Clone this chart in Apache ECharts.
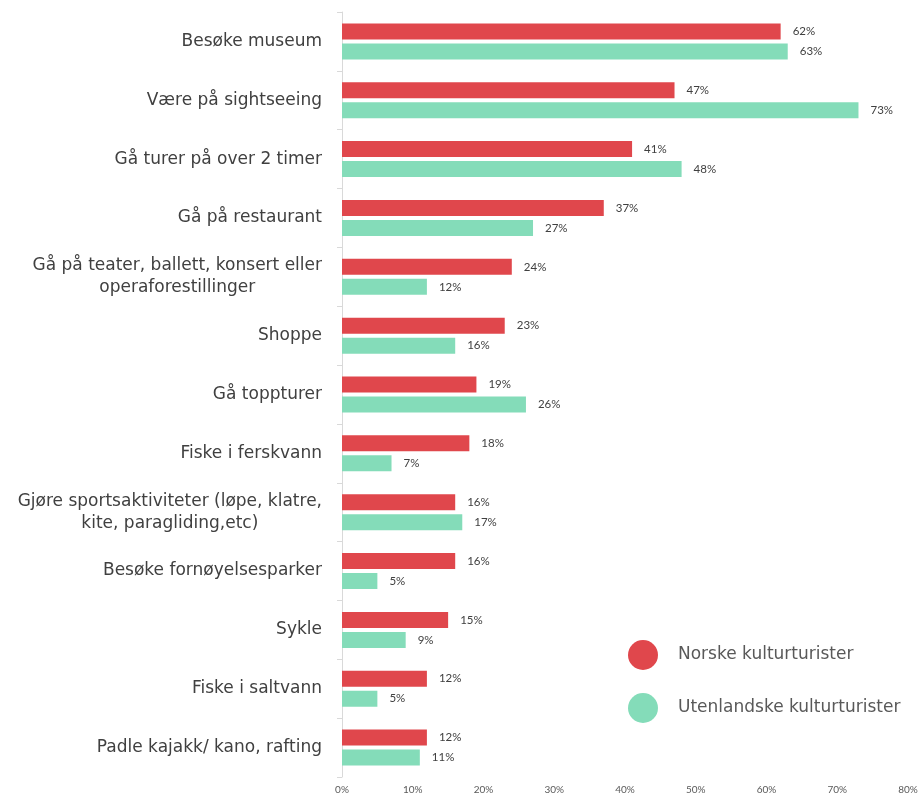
<!DOCTYPE html>
<html>
<head>
<meta charset="utf-8">
<script src="https://cdn.jsdelivr.net/npm/echarts@6/dist/echarts.min.js"></script>
<style>
  html, body { margin: 0; padding: 0; background: #fff; }
  #chart { width: 921px; height: 797px; }
</style>
</head>
<body>
<div id="chart"></div>
<script>
// aktiviteter, ovenfra og ned
const categories = [
    'Besøke museum',
    'Være på sightseeing',
    'Gå turer på over 2 timer',
    'Gå på restaurant',
    'Gå på teater, ballett, konsert eller\noperaforestillinger',
    'Shoppe',
    'Gå toppturer',
    'Fiske i ferskvann',
    'Gjøre sportsaktiviteter (løpe, klatre,\nkite, paragliding,etc)',
    'Besøke fornøyelsesparker',
    'Sykle',
    'Fiske i saltvann',
    'Padle kajakk/ kano, rafting'
];
const norske = [62, 47, 41, 37, 24, 23, 19, 18, 16, 16, 15, 12, 12];
const utenlandske = [63, 73, 48, 27, 12, 16, 26, 7, 17, 5, 9, 5, 11];
const seriesNames = ['Norske kulturturister', 'Utenlandske kulturturister'];
const xTicks = [0, 10, 20, 30, 40, 50, 60, 70, 80];

const RED = '#E0474C';
const GREEN = '#84DCB9';
const FONT = 'Lato, "Liberation Sans", sans-serif';
const WIDE = '"DejaVu Sans", sans-serif'; // bredere, nærmere originalen

const chart = echarts.init(document.getElementById('chart'));

const valueLabel = {
    show: true,
    position: 'right',
    distance: 12,
    fontSize: 11.5,
    fontFamily: FONT,
    color: '#404040',
    formatter: p => Math.round(p.value) + '%'
};

chart.setOption({
    animation: false,
    textStyle: { fontFamily: FONT },
    grid: { left: 342, right: 13, top: 12, bottom: 20, outerBoundsMode: 'none' },
    legend: {
        orient: 'vertical',
        left: 628,
        top: 640,
        padding: 0,
        itemWidth: 30,
        itemHeight: 30,
        itemGap: 23,
        icon: 'circle',
        textStyle: { fontSize: 17, color: '#595959', fontFamily: WIDE, padding: [0, 0, 0, 15] },
        data: seriesNames
    },
    xAxis: {
        type: 'value',
        min: xTicks[0],
        max: xTicks[xTicks.length - 1],
        interval: 10,
        axisLine: { show: false },
        axisTick: { show: false },
        splitLine: { show: false },
        axisLabel: { fontSize: 10, color: '#595959', margin: 8, formatter: '{value}%' }
    },
    yAxis: {
        type: 'category',
        inverse: true,
        data: categories,
        axisLine: { show: true, lineStyle: { color: '#d9d9d9', width: 1 } },
        axisTick: { show: true, length: 5, lineStyle: { color: '#d9d9d9' } },
        axisLabel: {
            margin: 20,
            fontSize: 17,
            color: '#404040',
            formatter: v => v.split('\n').map(l => '{c|' + l + '}').join('\n'),
            rich: {
                c: { align: 'center', fontSize: 17, color: '#404040', lineHeight: 22, fontFamily: WIDE }
            }
        }
    },
    series: [
        {
            name: seriesNames[0],
            type: 'bar',
            data: norske,
            barWidth: 16,
            barGap: '25%',
            itemStyle: { color: RED },
            label: valueLabel
        },
        {
            name: seriesNames[1],
            type: 'bar',
            data: utenlandske,
            barWidth: 16,
            itemStyle: { color: GREEN },
            label: valueLabel
        }
    ]
});
</script>
</body>
</html>
